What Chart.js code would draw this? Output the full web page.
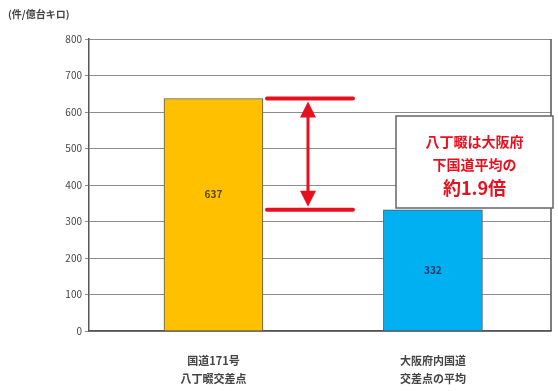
<!DOCTYPE html>
<html>
<head>
<meta charset="utf-8">
<script src="https://cdn.jsdelivr.net/npm/chart.js@4"></script>
<style>
  html, body { margin: 0; padding: 0; background: #fff; }
  #wrap { width: 558px; height: 391px; position: relative; }
</style>
</head>
<body>
<div id="wrap"><canvas id="c" width="558" height="391"></canvas></div>
<script>
// Accident rate (件/億台キロ)
const categories = [["国道171号", "八丁畷交差点"], ["大阪府内国道", "交差点の平均"]];
const values = [637, 332];
const barColors = ["#FFC000", "#00B0F0"];
const yTicks = [0, 100, 200, 300, 400, 500, 600, 700, 800];
const unitLabel = "(件/億台キロ)";
const noteLines = ["八丁畷は大阪府", "下国道平均の", "約1.9倍"];

const FONT = "'Noto Sans CJK JP', 'Noto Sans', sans-serif";

// Unit label, right frame line, value labels, ratio arrow and note box
const overlay = {
  id: "overlay",
  afterDatasetsDraw(chart) {
    const { ctx, chartArea: a, scales: { x, y } } = chart;
    ctx.save();

    // right frame of the plot area
    ctx.strokeStyle = "#555";
    ctx.lineWidth = 1.5;
    ctx.beginPath();
    ctx.moveTo(a.right, a.top);
    ctx.lineTo(a.right, a.bottom);
    ctx.stroke();

    // unit label
    ctx.fillStyle = "#444";
    ctx.font = "bold 10px " + FONT;
    ctx.textAlign = "left";
    ctx.textBaseline = "middle";
    ctx.fillText(unitLabel, 8, 14);

    // values inside bars
    ctx.font = "bold 10px " + FONT;
    ctx.textAlign = "center";
    const valueColors = ["#5a4500", "#1a3a6a"];
    const labelShift = [-21, 0];
    values.forEach((v, i) => {
      const px = x.getPixelForValue(i);
      const py = y.getPixelForValue(v / 2) + labelShift[i];
      ctx.fillStyle = valueColors[i];
      ctx.fillText(String(v), px, py);
    });

    // red level markers and double arrow
    const yHi = y.getPixelForValue(values[0]);
    const yLo = y.getPixelForValue(values[1]);
    const x0 = 267, x1 = 353, xa = 308;
    ctx.strokeStyle = "#E8101E";
    ctx.fillStyle = "#E8101E";
    ctx.lineCap = "round";
    ctx.lineWidth = 4;
    ctx.beginPath();
    ctx.moveTo(x0, yHi); ctx.lineTo(x1, yHi);
    ctx.moveTo(x0, yLo); ctx.lineTo(x1, yLo);
    ctx.stroke();
    ctx.lineWidth = 3;
    ctx.beginPath();
    ctx.moveTo(xa, yHi + 16); ctx.lineTo(xa, yLo - 16);
    ctx.stroke();
    ctx.beginPath();
    ctx.moveTo(xa, yHi + 3); ctx.lineTo(xa - 8, yHi + 19); ctx.lineTo(xa + 8, yHi + 19); ctx.closePath();
    ctx.moveTo(xa, yLo - 3); ctx.lineTo(xa - 8, yLo - 19); ctx.lineTo(xa + 8, yLo - 19); ctx.closePath();
    ctx.fill();

    // note box
    const bx = 396, by = 116, bw = 157, bh = 92;
    ctx.fillStyle = "#fff";
    ctx.fillRect(bx, by, bw, bh);
    ctx.strokeStyle = "#666";
    ctx.lineWidth = 1.5;
    ctx.strokeRect(bx, by, bw, bh);
    ctx.fillStyle = "#E8101E";
    ctx.textAlign = "center";
    ctx.textBaseline = "middle";
    const cx = bx + bw / 2;
    ctx.font = "bold 14px " + FONT;
    ctx.fillText(noteLines[0], cx, 142);
    ctx.fillText(noteLines[1], cx, 165);
    ctx.font = "bold 18px " + FONT;
    ctx.fillText(noteLines[2], cx, 188);

    ctx.restore();
  }
};

new Chart(document.getElementById("c"), {
  type: "bar",
  data: {
    datasets: [{
      data: values.map((v, i) => ({ x: i, y: v })),
      backgroundColor: barColors,
      borderColor: "#555",
      borderWidth: 1,
      barThickness: 99
    }]
  },
  options: {
    responsive: false,
    animation: false,
    layout: { padding: { top: 39, right: 7, left: 0, bottom: 0 } },
    plugins: { legend: { display: false }, tooltip: { enabled: false } },
    scales: {
      x: {
        type: "linear",
        offset: false,
        bounds: "data",
        min: -0.567,
        max: 1.538,
        afterBuildTicks: s => { s.ticks = categories.map((_, i) => ({ value: i })); },
        afterFit: s => { s.height = 60; },
        grid: { display: false, drawTicks: false },
        border: { display: true, color: "#555", width: 1.5 },
        ticks: {
          padding: 21,
          callback: v => categories[v],
          color: "#444",
          font: { family: FONT, size: 11, weight: "bold", lineHeight: 1.65 },
          maxRotation: 0,
          autoSkip: false
        }
      },
      y: {
        min: 0,
        max: 800,
        afterBuildTicks: s => { s.ticks = yTicks.map(v => ({ value: v })); },
        afterFit: s => { s.width = 89; },
        grid: { color: "#8c8c8c", lineWidth: 1, tickLength: 4, drawTicks: true },
        border: { display: true, color: "#555", width: 1.5 },
        ticks: {
          padding: 3,
          color: "#444",
          font: { family: FONT, size: 10 }
        }
      }
    }
  },
  plugins: [overlay]
});
</script>
</body>
</html>
